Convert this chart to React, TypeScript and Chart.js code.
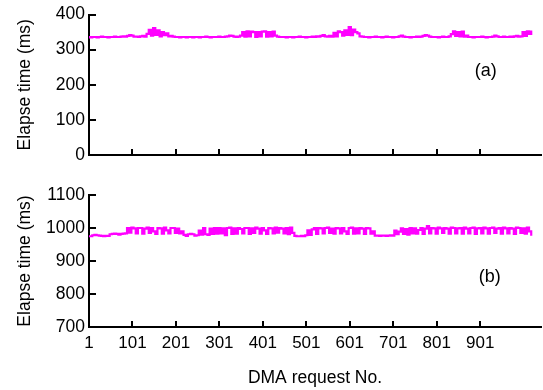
import React, { useEffect, useRef } from "react";
import { Chart, registerables } from "chart.js";

Chart.register(...registerables);

// DMA request numbers sampled every 5 requests (1, 6, 11, ...)
const SAMPLE_STEP = 5;

// (a) elapse time, ms
const elapseA: number[] = [
  336, 335, 336, 336, 335, 336, 337, 336, 336, 335,
  336, 336, 337, 336, 336, 337, 338, 337, 339, 341,
  340, 337, 337, 336, 338, 339, 337, 345, 356, 340,
  361, 342, 355, 338, 350, 341, 346, 338, 339, 337,
  336, 336, 335, 336, 336, 335, 336, 336, 335, 336,
  336, 335, 336, 336, 337, 336, 335, 336, 336, 336,
  337, 336, 336, 337, 338, 340, 339, 337, 336, 337,
  340, 350, 337, 352, 338, 351, 350, 336, 350, 338,
  351, 352, 337, 350, 338, 351, 340, 337, 336, 336,
  336, 335, 336, 336, 335, 336, 336, 337, 336, 336,
  335, 336, 336, 337, 336, 338, 337, 339, 341, 338,
  337, 339, 337, 348, 338, 352, 350, 340, 355, 342,
  364, 341, 357, 350, 346, 338, 337, 336, 336, 335,
  336, 336, 337, 336, 336, 335, 336, 337, 336, 336,
  335, 336, 336, 338, 340, 337, 336, 336, 335, 336,
  336, 337, 336, 337, 339, 341, 340, 337, 336, 336,
  336, 335, 336, 337, 336, 336, 338, 344, 352, 339,
  350, 338, 351, 337, 340, 336, 336, 335, 336, 336,
  336, 337, 336, 335, 336, 336, 337, 340, 338, 336,
  336, 337, 336, 336, 337, 336, 338, 339, 337, 338,
  350, 339, 352, 345, 351,
];

// (b) elapse time, ms
const elapseB: number[] = [
  975, 975, 978, 979, 978, 977, 976, 975, 976, 976,
  981, 982, 983, 982, 980, 982, 983, 984, 1000, 986,
  1001, 999, 984, 1000, 1000, 983, 998, 1001, 985, 1000,
  990, 982, 1000, 999, 983, 1001, 993, 984, 1000, 1000,
  985, 998, 984, 990, 979, 976, 981, 982, 981, 977,
  978, 992, 980, 1000, 981, 979, 998, 982, 1000, 983,
  1000, 984, 999, 978, 1000, 1001, 982, 999, 983, 1000,
  997, 984, 1000, 1000, 982, 999, 985, 1001, 998, 983,
  1000, 993, 982, 1000, 999, 984, 1001, 986, 1000, 998,
  984, 1000, 981, 1001, 985, 976, 975, 975, 976, 975,
  978, 993, 979, 996, 1000, 982, 1000, 999, 984, 1000,
  1001, 985, 998, 983, 1000, 999, 984, 1000, 990, 982,
  1000, 1001, 983, 999, 984, 1000, 998, 982, 1000, 999,
  983, 990, 977, 977, 976, 977, 977, 976, 977, 978,
  977, 992, 981, 989, 999, 982, 997, 980, 1000, 984,
  999, 983, 994, 1000, 982, 998, 1006, 984, 1000, 999,
  983, 1001, 999, 985, 1000, 998, 983, 1001, 1000, 984,
  999, 1000, 983, 1001, 998, 984, 1000, 1001, 982, 999,
  1000, 984, 1001, 999, 983, 1000, 1001, 985, 998, 1000,
  983, 1001, 999, 984, 1000, 998, 982, 1001, 1000, 985,
  999, 983, 1001, 990, 980,
];

const X_TICKS = [1, 101, 201, 301, 401, 501, 601, 701, 801, 901];
const X_MIN = 1;
const X_MAX = 1041;
const Y_TICKS_A = [0, 100, 200, 300, 400];
const Y_TICKS_B = [700, 800, 900, 1000, 1100];
const Y_TITLE = "Elapse time (ms)";
const X_TITLE = "DMA request No.";
const FONT_FAMILY = '"Liberation Sans", Arial, sans-serif';

const toPoints = (vals: number[]) =>
  vals.map((v, i) => ({ x: 1 + i * SAMPLE_STEP, y: v }));

const innerTicks = {
  id: "innerTicks",
  afterDraw(chart: any, _args: any, opts: any) {
    const { ctx, chartArea } = chart;
    const xs = chart.scales.x;
    const ys = chart.scales.y;
    ctx.save();
    ctx.strokeStyle = "#000";
    ctx.lineWidth = 2;
    ctx.beginPath();
    ys.ticks.forEach((t: any) => {
      if (t.value === ys.min) return;
      const py = Math.round(ys.getPixelForValue(t.value));
      ctx.moveTo(chartArea.left, py);
      ctx.lineTo(chartArea.left + 7, py);
    });
    xs.ticks.forEach((t: any) => {
      if (t.value === xs.min) return;
      const px = Math.round(xs.getPixelForValue(t.value));
      ctx.moveTo(px, chartArea.bottom);
      ctx.lineTo(px, chartArea.bottom - 6);
    });
    ctx.stroke();
    if (opts && opts.text) {
      ctx.font = "18px " + FONT_FAMILY;
      ctx.fillStyle = "#000";
      ctx.textAlign = "center";
      ctx.textBaseline = "middle";
      ctx.fillText(opts.text, xs.getPixelForValue(opts.x), ys.getPixelForValue(opts.y));
    }
    ctx.restore();
  },
};

function makeConfig(
  values: number[],
  yTicks: number[],
  panel: { text: string; x: number; y: number },
  showX: boolean,
  padTop: number,
  xHeight: number
): any {
  return {
    type: "line",
    data: {
      datasets: [
        {
          data: toPoints(values),
          borderColor: "#FF00FF",
          backgroundColor: "#FF00FF",
          borderWidth: 2.2,
          pointRadius: 0,
          stepped: "middle",
          fill: false,
        },
      ],
    },
    plugins: [innerTicks],
    options: {
      responsive: false,
      animation: false,
      events: [],
      layout: { padding: { top: padTop, right: 2, left: 0, bottom: 0 } },
      plugins: {
        legend: { display: false },
        tooltip: { enabled: false },
        innerTicks: panel,
      },
      scales: {
        x: {
          type: "linear",
          min: X_MIN,
          max: X_MAX,
          afterBuildTicks: (s: any) => {
            s.ticks = X_TICKS.map((v) => ({ value: v }));
          },
          afterFit: (s: any) => {
            s.height = xHeight;
          },
          grid: { display: false, drawTicks: false },
          border: { display: true, color: "#000", width: 2 },
          ticks: {
            display: showX,
            autoSkip: false,
            maxRotation: 0,
            padding: 6,
            color: "#000",
            font: { family: FONT_FAMILY, size: 17 },
            callback: (v: any) => String(v),
          },
          title: {
            display: showX,
            text: X_TITLE,
            color: "#000",
            font: { family: FONT_FAMILY, size: 17.5 },
            padding: { top: 0, bottom: 1 },
          },
        },
        y: {
          type: "linear",
          min: yTicks[0],
          max: yTicks[yTicks.length - 1],
          afterBuildTicks: (s: any) => {
            s.ticks = yTicks.map((v) => ({ value: v }));
          },
          afterFit: (s: any) => {
            s.width = 89;
          },
          grid: { display: false, drawTicks: false },
          border: { display: true, color: "#000", width: 2 },
          ticks: {
            padding: 4,
            color: "#000",
            font: { family: FONT_FAMILY, size: 17.5 },
            callback: (v: any) => String(v),
          },
          title: {
            display: true,
            text: Y_TITLE,
            color: "#000",
            font: { family: FONT_FAMILY, size: 17.5 },
            padding: { top: 15, bottom: 0 },
          },
        },
      },
    },
  };
}

function Panel(props: { top: number; height: number; config: any }) {
  const ref = useRef<HTMLCanvasElement | null>(null);
  useEffect(() => {
    if (!ref.current) return;
    const chart = new Chart(ref.current, props.config);
    return () => chart.destroy();
  }, []);
  return (
    <div style={{ position: "absolute", left: 0, top: props.top, width: 543, height: props.height }}>
      <canvas ref={ref} width={543} height={props.height} style={{ display: "block" }} />
    </div>
  );
}

export default function App() {
  const topCfg = makeConfig(elapseA, Y_TICKS_A, { text: "(a)", x: 914, y: 238 }, false, 12, 17);
  const botCfg = makeConfig(elapseB, Y_TICKS_B, { text: "(b)", x: 923, y: 851 }, true, 25, 63);
  return (
    <div style={{ position: "absolute", left: 0, top: 0, width: 543, height: 390, background: "#fff" }}>
      <Panel top={0} height={172} config={topCfg} />
      <Panel top={170} height={220} config={botCfg} />
    </div>
  );
}
